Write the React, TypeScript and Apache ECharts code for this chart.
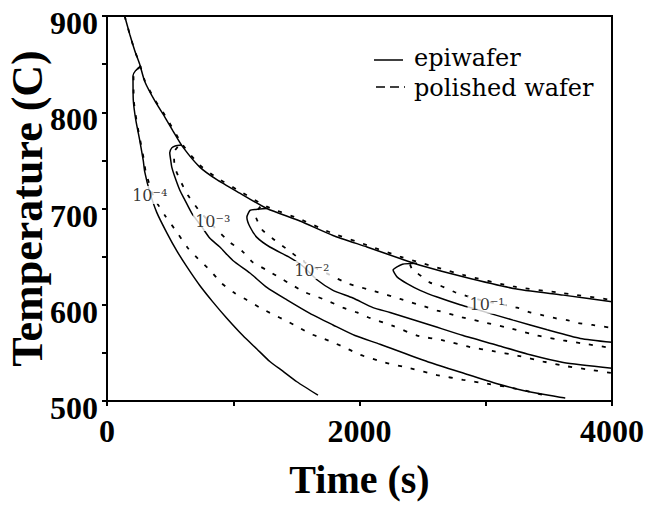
import React, { useEffect, useRef } from "react";
import * as echarts from "echarts";

// Axis ranges / labelled ticks
const xMin = 0;
const xMax = 4000;
const yMin = 500;
const yMax = 900;
const xLabelled = [0, 2000, 4000];
const yLabelled = [500, 600, 700, 800, 900];

// legend entries
const legendNames = ["epiwafer", "polished wafer"];

// epiwafer (solid) curves: [time s, temperature C]
const epiEnvelope = [[140,900],[180,881],[220,864],[259,850],[299,832],[378,812],[458,795],[521,781],[600,764],[735,743],[870,730],[1052,716],[1266,700],[1528,687],[1790,672],[2059,660],[2321,648],[2480,641],[2821,629],[3217,617],[3614,610],[4000,603]];
const epiA = [[268,848],[225,843],[206,838],[208,813],[228,792],[259,771],[287,750],[299,738],[339,717],[394,696],[473,675],[553,656],[640,638],[735,620],[838,603],[949,586],[1076,568],[1187,554],[1290,541],[1393,531],[1504,520],[1671,506]];
const epiB = [[593,766],[540,765],[513,763],[497,758],[505,750],[513,743],[537,733],[577,719],[616,709],[672,695],[745,682],[815,669],[894,660],[997,646],[1132,633],[1266,618],[1425,605],[1607,591],[1790,579],[1964,568],[2162,559],[2559,540],[2821,529],[3090,518],[3296,511],[3630,503]];
const epiC = [[1266,700],[1180,699],[1133,698],[1108,691],[1132,681],[1187,670],[1290,660],[1449,649],[1552,640],[1663,626],[1790,615],[1948,607],[2107,597],[2242,592],[2559,579],[2821,568],[3090,558],[3352,548],[3614,540],[4000,534]];
const epiD = [[2456,643],[2340,642],[2266,636],[2297,629],[2377,622],[2480,615],[2615,608],[2797,600],[2956,594],[3217,584],[3487,574],[3749,565],[4000,561]];

// polished wafer (dashed) curves
const polEnvelope = [[140,900],[180,881],[220,864],[259,850],[299,833],[378,813],[458,797],[600,766],[735,745],[870,732],[1052,718],[1266,702],[1528,689],[1790,674],[2059,662],[2321,650],[2821,631],[3217,619],[3614,612],[4000,605]];
const polA = [[268,848],[228,843],[210,838],[212,813],[233,792],[263,771],[293,750],[307,738],[370,712],[458,693],[561,674],[640,659],[720,648],[815,636],[910,622],[1013,612],[1108,605],[1211,597],[1314,590],[1409,584],[1512,577],[1607,570],[1711,565],[1806,560],[1909,554],[2004,548],[2202,540],[2401,534],[2615,527],[2821,522],[3011,518],[3193,514],[3407,508],[3510,504]];
const polB = [[560,764],[530,758],[537,743],[577,730],[640,714],[735,697],[854,680],[973,665],[1076,655],[1156,644],[1266,636],[1369,628],[1473,620],[1568,613],[1671,608],[1766,603],[1869,597],[1980,592],[2067,587],[2265,578],[2456,568],[2662,563],[2876,556],[3050,552],[3256,547],[3455,541],[3645,536],[3852,532],[4000,529]];
const polC = [[1215,702],[1174,694],[1229,678],[1330,667],[1433,657],[1568,644],[1766,631],[1909,622],[2123,614],[2321,606],[2520,598],[2615,594],[2813,587],[3011,581],[3209,575],[3407,568],[3614,563],[3804,559],[4000,555]];
const polD = [[2400,642],[2420,636],[2456,633],[2559,623],[2638,620],[2757,613],[2956,605],[3249,597],[3352,592],[3455,589],[3550,586],[3645,584],[3733,581],[3844,579],[4000,576]];

// contour labels: [time, temperature, text]
const contourLabels: [number, number, string][] = [
  [339, 714, "10\u207B\u2074"],
  [838, 686, "10\u207B\u00B3"],
  [1622, 636, "10\u207B\u00B2"],
  [3011, 600, "10\u207B\u00B9"],
];

const SERIF = "'Liberation Serif', 'Times New Roman', serif";
const SERIF_WIDE = "'DejaVu Serif', serif";

export default function App() {
  const ref = useRef<HTMLDivElement>(null);
  useEffect(() => {
    if (!ref.current) return;
    const chart = echarts.init(ref.current, undefined, { renderer: "svg" });
    const solid = (data: number[][]) => ({
      type: "line",
      name: legendNames[0],
      data,
      symbol: "none",
      smooth: 0.2,
      lineStyle: { color: "#000", width: 1.5, type: "solid" },
      itemStyle: { color: "#000" },
      z: 3,
    });
    const dashed = (data: number[][]) => ({
      type: "line",
      name: legendNames[1],
      data,
      symbol: "none",
      smooth: 0.2,
      lineStyle: { color: "#000", width: 1.8, type: [4, 9] },
      itemStyle: { color: "#000" },
      z: 2,
    });
    const legendText = {
      fontFamily: SERIF_WIDE,
      fontSize: 24,
      fill: "#000",
      verticalAlign: "middle",
    };
    chart.setOption({
      animation: false,
      backgroundColor: "#fff",
      grid: {
        left: 107,
        right: 47,
        top: 16,
        bottom: 113,
        show: true,
        borderColor: "#000",
        borderWidth: 2,
        backgroundColor: "transparent",
        outerBoundsMode: "none",
        containLabel: false,
      },
      graphic: [
        {
          type: "line",
          shape: { x1: 374, y1: 60, x2: 403, y2: 60 },
          style: { stroke: "#000", lineWidth: 1.5 },
        },
        {
          type: "line",
          shape: { x1: 376, y1: 87, x2: 405, y2: 87 },
          style: { stroke: "#000", lineWidth: 1.5, lineDash: [9, 5] },
        },
        { type: "text", x: 414, y: 58, style: { ...legendText, text: legendNames[0] } },
        { type: "text", x: 414, y: 88, style: { ...legendText, text: legendNames[1] } },
      ],
      xAxis: {
        type: "value",
        min: xMin,
        max: xMax,
        interval: 1000,
        name: "Time (s)",
        nameLocation: "middle",
        nameGap: 58,
        nameMoveOverlap: false,
        nameTextStyle: { fontFamily: SERIF, fontSize: 40, fontWeight: "bold", color: "#000" },
        axisLine: { lineStyle: { color: "#000", width: 2 } },
        axisTick: { show: true, length: 5, lineStyle: { color: "#000", width: 2 } },
        splitLine: { show: false },
        axisLabel: {
          margin: 14,
          fontFamily: SERIF,
          fontSize: 32,
          fontWeight: "bold",
          color: "#000",
          formatter: (v: number) => (xLabelled.includes(v) ? String(v) : ""),
        },
      },
      yAxis: {
        type: "value",
        min: yMin,
        max: yMax,
        interval: 50,
        name: "Temperature (C)",
        nameLocation: "middle",
        nameGap: 58,
        nameMoveOverlap: false,
        nameTextStyle: { fontFamily: SERIF, fontSize: 44, fontWeight: "bold", color: "#000" },
        axisLine: { lineStyle: { color: "#000", width: 2 } },
        axisTick: { show: true, length: 5, lineStyle: { color: "#000", width: 2 } },
        splitLine: { show: false },
        axisLabel: {
          margin: 9,
          fontFamily: SERIF,
          fontSize: 32,
          fontWeight: "bold",
          color: "#000",
          verticalAlign: "top",
          lineHeight: 14,
          formatter: (v: number) => (yLabelled.includes(v) ? String(v) : ""),
        },
      },
      series: [
        dashed(polEnvelope),
        dashed(polA),
        dashed(polB),
        dashed(polC),
        dashed(polD),
        solid(epiEnvelope),
        solid(epiA),
        solid(epiB),
        solid(epiC),
        solid(epiD),
        {
          type: "scatter",
          name: "labels",
          data: contourLabels,
          symbolSize: 1,
          itemStyle: { color: "rgba(0,0,0,0)" },
          z: 10,
          label: {
            show: true,
            position: "inside",
            formatter: (p: any) => p.value[2],
            fontFamily: SERIF_WIDE,
            fontSize: 16,
            color: "#000",
            backgroundColor: "#fff",
            padding: [1, 2],
          },
        },
      ],
    });
    return () => chart.dispose();
  }, []);
  return (
    <div
      ref={ref}
      style={{ position: "fixed", left: 0, top: 0, width: 659, height: 514, background: "#fff" }}
    />
  );
}
